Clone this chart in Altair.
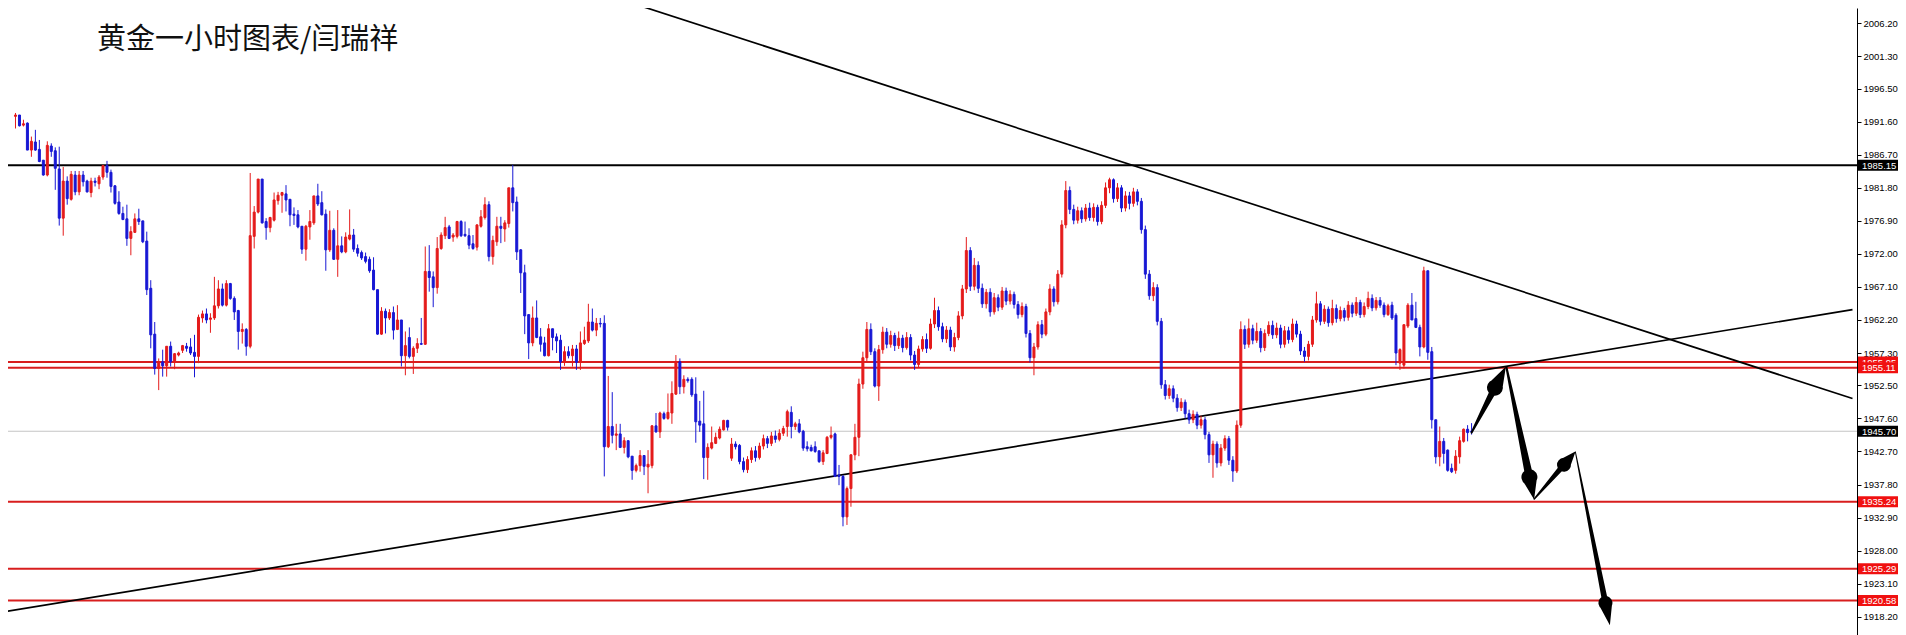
import altair as alt
import pandas as pd

# ---------------- data ----------------
FIRST_BAR = 2
opens = [
    1992.4, 1992.6, 1991.1, 1991.4, 1987.4, 1988.6, 1987.5, 1985.9, 1983.7, 1988.0,
    1987.3, 1984.6, 1977.3, 1982.8, 1980.1, 1983.7, 1981.2, 1983.7, 1982.8, 1981.1,
    1982.8, 1982.4, 1983.4, 1985.1, 1984.1, 1982.1, 1979.7, 1978.0, 1977.2, 1974.3,
    1975.2, 1977.2, 1976.9, 1973.9, 1966.9, 1960.1, 1955.0, 1956.0, 1955.4, 1958.3,
    1956.0, 1957.0, 1957.7, 1958.3, 1958.2, 1957.4, 1956.8, 1962.5, 1963.1, 1962.3,
    1962.5, 1964.3, 1966.8, 1964.4, 1967.6, 1965.4, 1963.6, 1960.5, 1960.8, 1958.3,
    1974.6, 1978.2, 1983.1, 1976.8, 1975.9, 1977.0, 1979.9, 1980.7, 1980.9, 1980.1,
    1977.9, 1977.8, 1976.1, 1972.7, 1976.0, 1976.6, 1980.6, 1979.6, 1977.9, 1972.6,
    1975.5, 1971.2, 1973.2, 1972.3, 1974.2, 1974.8, 1972.8, 1972.2, 1971.6, 1971.2,
    1969.6, 1966.7, 1960.1, 1963.5, 1962.5, 1963.3, 1960.8, 1962.2, 1956.9, 1959.6,
    1956.8, 1958.0, 1958.7, 1958.6, 1969.4, 1968.6, 1967.0, 1972.8, 1974.7, 1976.0,
    1974.5, 1974.6, 1976.8, 1974.9, 1974.7, 1973.5, 1973.0, 1976.1, 1977.4, 1979.3,
    1971.6, 1973.8, 1976.1, 1975.7, 1976.5, 1981.8, 1979.7, 1972.6, 1969.2, 1963.0,
    1958.8, 1962.5, 1959.7, 1958.8, 1956.9, 1960.9, 1959.7, 1959.2, 1956.0, 1957.5,
    1956.9, 1957.9, 1955.9, 1958.7, 1959.1, 1961.9, 1960.7, 1961.7, 1961.7, 1943.4,
    1946.4, 1945.1, 1945.3, 1943.3, 1944.3, 1942.0, 1939.9, 1940.6, 1942.1, 1940.4,
    1940.6, 1946.5, 1945.6, 1948.3, 1947.6, 1948.4, 1951.2, 1956.0, 1952.3, 1953.4,
    1953.4, 1951.2, 1947.2, 1946.8, 1941.8, 1943.2, 1943.9, 1944.7, 1945.9, 1947.3,
    1941.7, 1943.8, 1943.6, 1941.2, 1940.0, 1941.5, 1942.8, 1941.8, 1943.5, 1944.6,
    1943.9, 1945.0, 1944.5, 1945.4, 1946.4, 1948.5, 1946.4, 1946.8, 1945.7, 1943.4,
    1943.3, 1943.4, 1942.8, 1941.2, 1942.4, 1944.8, 1945.3, 1939.2, 1939.0, 1933.0,
    1937.2, 1942.2, 1944.8, 1952.7, 1956.6, 1960.8, 1957.5, 1952.4, 1957.8, 1960.4,
    1958.6, 1959.9, 1958.4, 1959.5, 1958.1, 1959.6, 1957.0, 1955.6, 1957.9, 1959.3,
    1958.0, 1961.6, 1963.6, 1961.2, 1959.4, 1960.7, 1958.2, 1959.6, 1962.8, 1966.8,
    1972.5, 1967.2, 1970.3, 1966.9, 1964.6, 1966.3, 1963.4, 1965.5, 1964.1, 1966.5,
    1965.0, 1966.0, 1964.5, 1963.0, 1964.2, 1960.2, 1956.6, 1958.2, 1961.5, 1960.1,
    1963.4, 1966.8, 1964.9, 1969.0, 1976.3, 1981.4, 1978.6, 1977.0, 1978.4, 1977.2,
    1978.8, 1977.4, 1978.9, 1976.8, 1979.2, 1981.8, 1983.0, 1980.2, 1981.8, 1978.8,
    1980.6, 1979.5, 1981.2, 1979.8, 1975.6, 1969.0, 1965.8, 1967.0, 1962.0, 1952.6,
    1951.0, 1952.0, 1950.6, 1949.2, 1950.0, 1948.3, 1947.4, 1948.2, 1946.6, 1947.4,
    1945.2, 1942.2, 1943.8, 1941.0, 1943.2, 1944.6, 1941.4, 1939.8, 1946.6, 1960.8,
    1958.6, 1960.9, 1959.2, 1960.5, 1958.1, 1960.2, 1961.4, 1960.0, 1961.0, 1958.6,
    1960.6, 1959.3, 1961.6, 1960.1, 1957.6, 1956.8, 1958.6, 1962.2, 1964.6, 1962.0,
    1963.8, 1961.8, 1963.9, 1962.4, 1963.6, 1962.6, 1964.4, 1963.2, 1964.8, 1963.0,
    1964.2, 1965.4, 1964.0, 1965.1, 1964.4, 1963.0, 1964.4, 1962.9, 1955.8, 1955.5,
    1961.3, 1964.4, 1962.4, 1961.1, 1958.2, 1969.5, 1957.5, 1947.4, 1941.9, 1944.2,
    1942.9, 1940.2, 1939.9, 1941.9, 1944.2, 1946.0, 1945.7,
]
highs = [
    1992.9, 1992.6, 1991.9, 1991.5, 1989.4, 1990.4, 1988.9, 1985.9, 1988.7, 1988.4,
    1987.8, 1987.9, 1984.9, 1983.5, 1984.3, 1984.3, 1984.3, 1984.3, 1983.0, 1983.3,
    1983.3, 1983.7, 1985.2, 1985.8, 1984.5, 1982.2, 1981.3, 1979.0, 1979.3, 1976.1,
    1978.0, 1978.7, 1976.9, 1975.3, 1968.1, 1961.9, 1956.5, 1957.8, 1958.3, 1959.0,
    1957.3, 1957.5, 1958.5, 1958.8, 1959.5, 1960.0, 1963.0, 1963.6, 1963.9, 1963.2,
    1968.6, 1968.1, 1967.6, 1968.1, 1967.7, 1965.7, 1963.7, 1961.7, 1961.0, 1984.0,
    1979.1, 1983.1, 1983.1, 1977.3, 1977.5, 1981.1, 1981.2, 1981.2, 1982.2, 1980.1,
    1978.9, 1978.5, 1976.1, 1976.3, 1978.5, 1980.6, 1982.4, 1981.3, 1978.6, 1978.4,
    1975.8, 1978.5, 1974.6, 1975.2, 1978.6, 1975.7, 1973.4, 1972.5, 1972.2, 1971.6,
    1971.5, 1966.7, 1964.1, 1963.9, 1963.8, 1964.2, 1964.4, 1962.2, 1960.5, 1961.1,
    1958.3, 1959.5, 1962.5, 1973.1, 1973.3, 1969.4, 1974.5, 1975.2, 1977.5, 1976.3,
    1975.1, 1976.9, 1977.0, 1976.8, 1975.8, 1974.8, 1976.4, 1978.5, 1980.4, 1979.8,
    1974.7, 1977.5, 1977.5, 1977.0, 1981.8, 1985.2, 1980.5, 1972.7, 1970.4, 1963.0,
    1964.2, 1965.1, 1961.0, 1959.7, 1961.6, 1960.9, 1960.2, 1960.0, 1958.3, 1958.3,
    1958.5, 1958.5, 1960.5, 1961.2, 1964.6, 1963.9, 1962.5, 1962.5, 1962.9, 1953.9,
    1951.5, 1946.8, 1946.8, 1944.8, 1944.3, 1942.0, 1940.9, 1942.9, 1942.1, 1942.9,
    1946.6, 1948.4, 1948.6, 1948.6, 1951.3, 1953.1, 1957.0, 1956.5, 1954.0, 1953.7,
    1953.7, 1953.7, 1950.2, 1951.7, 1943.9, 1946.4, 1945.5, 1946.4, 1947.4, 1947.4,
    1944.7, 1944.2, 1943.8, 1941.8, 1942.0, 1943.3, 1943.5, 1944.0, 1945.2, 1945.0,
    1945.6, 1945.8, 1946.0, 1946.5, 1948.9, 1949.4, 1947.1, 1947.5, 1945.9, 1944.2,
    1943.7, 1944.2, 1942.8, 1942.9, 1945.0, 1946.4, 1945.5, 1940.7, 1939.2, 1937.5,
    1942.3, 1946.8, 1953.5, 1957.5, 1961.9, 1961.7, 1958.0, 1958.5, 1961.2, 1961.0,
    1960.6, 1960.3, 1960.5, 1960.0, 1960.4, 1960.1, 1957.6, 1958.4, 1959.8, 1960.2,
    1962.4, 1965.5, 1964.2, 1961.8, 1961.3, 1961.2, 1960.3, 1963.5, 1967.4, 1974.5,
    1973.0, 1971.4, 1970.9, 1967.6, 1966.8, 1966.9, 1966.2, 1966.0, 1967.1, 1967.0,
    1966.6, 1966.4, 1965.0, 1964.8, 1964.6, 1960.7, 1958.8, 1962.0, 1962.2, 1963.9,
    1967.5, 1967.2, 1969.6, 1977.0, 1982.8, 1982.0, 1979.3, 1979.0, 1978.9, 1979.4,
    1979.6, 1979.5, 1979.3, 1979.8, 1982.6, 1983.3, 1983.2, 1982.5, 1982.2, 1981.3,
    1981.2, 1981.8, 1981.6, 1980.3, 1976.2, 1969.6, 1967.8, 1967.5, 1962.5, 1953.3,
    1952.6, 1952.5, 1951.2, 1950.6, 1950.4, 1948.9, 1948.8, 1948.6, 1948.0, 1947.8,
    1945.6, 1944.3, 1944.2, 1943.8, 1945.1, 1945.0, 1942.0, 1947.3, 1962.0, 1961.4,
    1962.4, 1961.5, 1961.8, 1961.0, 1960.8, 1962.0, 1962.1, 1961.8, 1961.5, 1961.3,
    1961.2, 1962.4, 1962.1, 1960.6, 1958.2, 1959.1, 1962.8, 1966.4, 1965.0, 1964.4,
    1964.2, 1965.2, 1964.5, 1964.2, 1964.0, 1965.0, 1964.8, 1965.6, 1965.2, 1964.8,
    1966.4, 1966.0, 1965.6, 1965.6, 1964.8, 1964.6, 1964.9, 1963.2, 1958.0, 1961.5,
    1964.7, 1966.2, 1964.9, 1961.5, 1970.1, 1969.5, 1958.2, 1947.4, 1946.4, 1944.7,
    1943.0, 1940.9, 1942.9, 1944.9, 1946.1, 1946.6, 1946.9,
]
lows = [
    1990.6, 1990.9, 1990.9, 1987.4, 1986.4, 1987.3, 1985.6, 1983.6, 1983.5, 1986.4,
    1981.5, 1976.2, 1974.7, 1979.3, 1979.9, 1980.7, 1980.7, 1982.0, 1981.1, 1980.4,
    1982.0, 1981.6, 1983.0, 1983.3, 1981.1, 1979.3, 1977.8, 1977.0, 1973.2, 1971.8,
    1975.1, 1976.3, 1973.6, 1965.9, 1958.0, 1954.1, 1951.8, 1953.8, 1953.8, 1955.3,
    1954.9, 1956.8, 1957.3, 1957.5, 1957.0, 1953.7, 1955.8, 1961.8, 1961.7, 1960.3,
    1962.2, 1963.9, 1964.2, 1964.2, 1965.2, 1962.2, 1957.8, 1958.7, 1956.9, 1958.0,
    1972.8, 1978.0, 1976.5, 1974.1, 1975.2, 1976.8, 1979.3, 1978.1, 1978.3, 1976.1,
    1976.3, 1975.8, 1972.0, 1971.0, 1974.1, 1976.3, 1979.1, 1977.7, 1969.5, 1972.3,
    1971.1, 1968.6, 1972.1, 1972.1, 1974.0, 1972.3, 1971.6, 1971.1, 1970.6, 1969.2,
    1966.6, 1960.0, 1960.0, 1960.2, 1962.2, 1959.3, 1960.7, 1955.3, 1954.0, 1956.5,
    1954.2, 1957.3, 1958.5, 1958.5, 1966.4, 1964.1, 1966.1, 1972.6, 1974.2, 1974.2,
    1973.8, 1974.3, 1974.5, 1974.5, 1972.7, 1972.6, 1972.5, 1975.9, 1977.1, 1970.9,
    1970.4, 1973.2, 1973.6, 1973.8, 1975.9, 1978.3, 1971.1, 1966.2, 1960.1, 1956.4,
    1958.3, 1959.5, 1957.5, 1956.8, 1956.8, 1957.7, 1957.3, 1954.8, 1955.4, 1956.5,
    1955.3, 1954.8, 1954.8, 1958.5, 1958.8, 1960.5, 1959.8, 1961.1, 1939.0, 1943.2,
    1943.9, 1942.9, 1943.2, 1942.4, 1941.7, 1938.5, 1939.6, 1939.7, 1939.2, 1936.5,
    1940.2, 1945.5, 1944.7, 1947.4, 1947.4, 1946.8, 1951.1, 1951.2, 1951.3, 1952.9,
    1950.8, 1944.0, 1945.6, 1938.6, 1938.5, 1943.0, 1943.8, 1944.5, 1945.8, 1945.8,
    1941.3, 1943.0, 1940.8, 1939.6, 1939.5, 1941.0, 1941.2, 1941.5, 1943.0, 1943.2,
    1943.5, 1944.0, 1944.2, 1945.0, 1944.9, 1944.65, 1945.9, 1945.4, 1942.8, 1942.7,
    1942.7, 1942.5, 1941.0, 1940.7, 1942.3, 1944.5, 1938.9, 1937.7, 1931.6, 1931.8,
    1934.5, 1941.4, 1942.0, 1952.0, 1955.9, 1957.0, 1952.2, 1950.2, 1957.2, 1958.0,
    1958.1, 1957.6, 1957.9, 1957.4, 1957.8, 1956.2, 1954.8, 1955.2, 1957.5, 1957.3,
    1957.8, 1961.0, 1960.6, 1958.9, 1958.8, 1957.6, 1957.5, 1959.2, 1962.3, 1966.2,
    1966.5, 1966.6, 1966.2, 1964.0, 1963.9, 1962.7, 1963.0, 1963.5, 1963.7, 1964.4,
    1964.5, 1963.9, 1962.4, 1962.6, 1959.6, 1955.9, 1954.0, 1957.8, 1959.5, 1959.8,
    1962.9, 1964.2, 1964.5, 1968.5, 1975.8, 1977.9, 1976.4, 1976.5, 1976.6, 1976.8,
    1976.9, 1976.8, 1976.2, 1976.4, 1978.8, 1981.0, 1979.6, 1979.7, 1978.2, 1978.3,
    1978.6, 1979.0, 1979.2, 1975.0, 1968.3, 1965.2, 1965.0, 1961.4, 1952.0, 1950.4,
    1950.5, 1950.0, 1948.6, 1948.7, 1947.6, 1946.8, 1946.9, 1946.0, 1946.1, 1944.5,
    1941.0, 1938.8, 1940.3, 1940.5, 1942.8, 1940.7, 1938.2, 1939.5, 1946.2, 1957.9,
    1958.1, 1958.6, 1958.8, 1957.4, 1957.6, 1959.8, 1959.4, 1959.5, 1958.0, 1958.1,
    1958.7, 1958.9, 1959.6, 1957.0, 1956.0, 1956.2, 1958.2, 1961.8, 1961.4, 1961.6,
    1961.2, 1961.4, 1961.8, 1962.0, 1962.0, 1962.1, 1962.6, 1962.8, 1962.5, 1962.6,
    1963.8, 1963.5, 1963.6, 1964.0, 1962.6, 1962.8, 1962.2, 1955.5, 1954.8, 1955.0,
    1961.0, 1962.2, 1961.0, 1956.8, 1958.0, 1956.3, 1946.1, 1940.9, 1940.5, 1940.9,
    1939.7, 1939.5, 1939.4, 1940.9, 1944.0, 1944.2, 1945.2,
]
closes = [
    1992.6, 1991.0, 1991.3, 1987.4, 1988.7, 1987.4, 1985.7, 1983.7, 1988.1, 1987.2,
    1984.7, 1977.3, 1982.8, 1980.2, 1983.8, 1981.2, 1983.7, 1982.7, 1981.2, 1982.8,
    1982.6, 1983.4, 1985.1, 1984.1, 1982.0, 1979.5, 1978.0, 1977.1, 1974.3, 1975.3,
    1977.2, 1976.8, 1973.8, 1966.7, 1960.0, 1955.0, 1956.0, 1955.4, 1958.3, 1956.0,
    1957.2, 1957.3, 1958.4, 1958.0, 1957.3, 1956.8, 1962.6, 1963.1, 1962.2, 1962.5,
    1964.3, 1966.8, 1964.4, 1967.6, 1965.4, 1963.4, 1960.5, 1960.8, 1958.3, 1974.7,
    1978.2, 1983.1, 1976.6, 1975.9, 1977.4, 1980.0, 1980.7, 1981.1, 1980.0, 1977.8,
    1977.7, 1976.0, 1972.7, 1976.1, 1976.8, 1980.6, 1979.4, 1977.8, 1972.6, 1975.5,
    1971.2, 1973.2, 1972.3, 1974.5, 1974.8, 1972.7, 1972.1, 1971.4, 1970.9, 1969.5,
    1966.7, 1960.1, 1963.5, 1962.5, 1963.3, 1960.7, 1962.2, 1956.9, 1958.4, 1956.8,
    1958.0, 1958.7, 1958.6, 1969.4, 1968.5, 1967.0, 1972.8, 1974.8, 1975.9, 1974.3,
    1974.8, 1976.8, 1974.7, 1974.7, 1973.3, 1972.8, 1976.3, 1977.5, 1979.3, 1971.6,
    1974.0, 1976.1, 1975.8, 1976.6, 1981.8, 1979.6, 1972.3, 1969.2, 1962.8, 1958.8,
    1962.5, 1959.6, 1958.6, 1956.9, 1960.9, 1959.6, 1959.1, 1956.0, 1957.5, 1956.9,
    1957.9, 1955.9, 1958.8, 1959.2, 1961.9, 1960.7, 1961.7, 1961.6, 1943.4, 1946.4,
    1945.1, 1945.3, 1943.3, 1944.3, 1941.9, 1939.9, 1940.6, 1942.1, 1940.5, 1940.8,
    1946.5, 1945.6, 1948.4, 1947.6, 1948.5, 1951.3, 1956.0, 1952.3, 1953.4, 1953.2,
    1951.1, 1947.1, 1946.6, 1941.8, 1943.3, 1944.0, 1944.8, 1946.0, 1947.3, 1946.3,
    1943.8, 1943.4, 1941.2, 1940.0, 1941.5, 1942.8, 1941.8, 1943.5, 1944.6, 1943.9,
    1945.0, 1944.5, 1945.4, 1946.1, 1948.6, 1946.4, 1946.8, 1945.6, 1943.2, 1943.1,
    1942.8, 1942.7, 1941.2, 1942.5, 1944.8, 1945.1, 1939.0, 1939.0, 1933.0, 1937.2,
    1942.2, 1944.8, 1952.7, 1956.6, 1960.8, 1957.5, 1952.4, 1957.8, 1960.4, 1958.6,
    1959.9, 1958.4, 1959.5, 1958.1, 1959.6, 1957.0, 1955.6, 1957.9, 1959.3, 1958.0,
    1961.6, 1963.6, 1961.2, 1959.4, 1960.7, 1958.2, 1959.6, 1962.8, 1966.8, 1972.5,
    1967.2, 1970.3, 1966.9, 1964.6, 1966.3, 1963.4, 1965.5, 1964.1, 1966.5, 1965.0,
    1966.0, 1964.5, 1963.0, 1964.2, 1960.2, 1956.6, 1958.2, 1961.5, 1960.1, 1963.4,
    1966.8, 1964.9, 1969.0, 1976.3, 1981.4, 1978.6, 1977.0, 1978.4, 1977.2, 1978.8,
    1977.4, 1978.9, 1976.8, 1979.2, 1981.8, 1983.0, 1980.2, 1981.8, 1978.8, 1980.6,
    1979.5, 1981.2, 1979.8, 1975.6, 1969.0, 1965.8, 1967.0, 1962.0, 1952.6, 1951.0,
    1952.0, 1950.6, 1949.2, 1950.0, 1948.3, 1947.4, 1948.2, 1946.6, 1947.4, 1945.2,
    1942.2, 1943.8, 1941.0, 1943.2, 1944.6, 1941.4, 1939.8, 1946.6, 1960.8, 1958.6,
    1960.9, 1959.2, 1960.5, 1958.1, 1960.2, 1961.4, 1960.0, 1961.0, 1958.6, 1960.6,
    1959.3, 1961.6, 1960.1, 1957.6, 1956.8, 1958.6, 1962.2, 1964.6, 1962.0, 1963.8,
    1961.8, 1963.9, 1962.4, 1963.6, 1962.6, 1964.4, 1963.2, 1964.8, 1963.0, 1964.2,
    1965.4, 1964.0, 1965.1, 1964.4, 1963.0, 1964.3, 1962.5, 1957.3, 1957.8, 1961.5,
    1964.4, 1962.2, 1961.1, 1958.2, 1969.5, 1957.4, 1947.4, 1941.9, 1944.2, 1942.4,
    1939.9, 1939.7, 1942.0, 1944.3, 1946.0, 1945.5, 1945.6,
]

tick_values = [2006.20, 2001.30, 1996.50, 1991.60, 1986.70, 1981.80, 1976.90,
               1972.00, 1967.10, 1962.20, 1957.30, 1952.50, 1947.60, 1942.70,
               1937.80, 1932.90, 1928.00, 1923.10, 1918.20]
red_levels = [1955.95, 1955.11, 1935.24, 1925.29, 1920.58]
black_levels = [1985.15, 1945.70]
last_price = 1945.70
title_text = "黄金一小时图表/闫瑞祥"

# trend lines as (bar, price) end points
trend_bars = [[154.5, 463.75], [-0.5, 463.75]]
trend_prices = [[2009.66, 1950.56], [1918.97, 1963.73]]

# drawn arrows: start, tip (bar, price)
arrow_starts = [(368.0, 1945.49), (376.75, 1955.23), (383.75, 1935.66), (394.1, 1942.62)]
arrow_tips = [(376.6, 1955.27), (383.7, 1935.61), (394.1, 1942.67), (402.75, 1916.97)]
arrow_head_frac = [0.32, 0.17, 0.28, 0.13]
arrow_shaft_w = [(2.0, 7.0), (2.0, 8.0), (1.5, 6.0), (1.0, 6.0)]
arrow_head_w = [16, 16, 14, 14]

# ---------------- styling ----------------
RED = "#e41b1b"
BLUE = "#1818d4"
LINE_RED = "#d81e1e"
BOX_RED = "#f01010"
AXIS_FONT = "Liberation Sans"
W, H = 1849, 627

n = len(opens)
assert len(highs) == n and len(lows) == n and len(closes) == n
df = pd.DataFrame({
    "bar": list(range(FIRST_BAR, FIRST_BAR + n)),
    "open": opens, "high": highs, "low": lows, "close": closes,
})
df["dir"] = ["up" if c >= o else "down" for o, c in zip(opens, closes)]
df["top"] = df[["open", "close"]].max(axis=1)
df["bot"] = df[["open", "close"]].min(axis=1)

xs = alt.Scale(domain=[1.375, 463.625], nice=False, zero=False)
ys = alt.Scale(domain=[1915.48, 2008.47], nice=False, zero=False)
yaxis = alt.Axis(orient="right", values=tick_values, title=None, grid=False,
                 labelExpr="format(datum.value, '.2f')")
cscale = alt.Scale(domain=["up", "down"], range=[RED, BLUE])

X = lambda f: alt.X(f, type="quantitative", scale=xs, axis=None)
Y = lambda f: alt.Y(f, type="quantitative", scale=ys, axis=yaxis)

wicks = alt.Chart(df).mark_rule(strokeWidth=1, clip=True).encode(
    x=X("bar"), y=Y("low"), y2="high",
    color=alt.Color("dir:N", scale=cscale, legend=None))
bodies = alt.Chart(df).mark_bar(size=2, strokeWidth=1, clip=True).encode(
    x=X("bar"), y=Y("bot"), y2="top",
    color=alt.Color("dir:N", scale=cscale, legend=None),
    stroke=alt.Stroke("dir:N", scale=cscale, legend=None))

red_df = pd.DataFrame({"price": red_levels})
red_lines = alt.Chart(red_df).mark_rule(strokeWidth=2, color=LINE_RED, clip=True).encode(
    y=Y("price"))
black_line = alt.Chart(pd.DataFrame({"price": black_levels[:1]})).mark_rule(
    strokeWidth=2, color="black", clip=True).encode(y=Y("price"))
gray_line = alt.Chart(pd.DataFrame({"price": [last_price]})).mark_rule(
    strokeWidth=1, color="#c4c4c4", clip=True).encode(y=Y("price"))

tl_rows = []
for k, (bs, ps) in enumerate(zip(trend_bars, trend_prices)):
    for b, p in zip(bs, ps):
        tl_rows.append({"id": k, "bar": b, "price": p})
trend = alt.Chart(pd.DataFrame(tl_rows)).mark_line(
    color="black", strokeWidth=1.7, clip=True).encode(
    x=X("bar"), y=Y("price"), detail="id:N")

ar_rows = []
for k in range(len(arrow_starts)):
    (b0, p0), (b1, p1) = arrow_starts[k], arrow_tips[k]
    hf = arrow_head_frac[k]
    ws, we = arrow_shaft_w[k]
    for j, (t, w) in enumerate([(0.0, ws), (1 - hf, we), (1 - hf + 0.003, arrow_head_w[k]), (1.0, 0.2)]):
        ar_rows.append({"id": k, "ord": j, "bar": b0 + (b1 - b0) * t,
                        "price": p0 + (p1 - p0) * t, "w": w})
arrows = alt.Chart(pd.DataFrame(ar_rows)).mark_trail(color="black", clip=True).encode(
    x=X("bar"), y=Y("price"), detail="id:N", order="ord:Q",
    size=alt.Size("w:Q", scale=None, legend=None))


def label_layers(values, fill):
    d = pd.DataFrame({"price": values, "label": [f"{v:.2f}" for v in values]})
    box = alt.Chart(d).mark_rule(strokeWidth=11, strokeCap="butt", color=fill).encode(
        x=alt.value(W + 1), x2=alt.value(W + 41), y=Y("price"))
    txt = alt.Chart(d).mark_text(
        align="left", baseline="middle", color="white", font=AXIS_FONT,
        fontSize=9.5, dy=0.5).encode(x=alt.value(W + 5), y=Y("price"), text="label:N")
    return [box, txt]


label_marks = label_layers(black_levels, "black")
for v in red_levels:
    label_marks += label_layers([v], BOX_RED)

title = alt.Chart(pd.DataFrame({"t": [title_text]})).mark_text(
    align="left", baseline="middle", font="Noto Sans CJK SC", fontSize=29,
    color="#111111").encode(x=alt.value(89), y=alt.value(32), text="t:N")

chart = alt.layer(
    gray_line, red_lines, black_line, trend, wicks, bodies, arrows, *label_marks, title
).properties(
    width=W, height=H, background="white",
    autosize=alt.AutoSizeParams(type="none"),
    padding={"left": 0, "top": 0, "right": 41, "bottom": 0},
).configure_view(
    stroke=None
).configure_axis(
    domainColor="black", domainWidth=1, tickColor="black", tickSize=4, tickWidth=1,
    labelFont=AXIS_FONT, labelFontSize=9.5, labelColor="black", labelPadding=2,
    labelAlign="left", labelBaseline="middle"
)

chart.save("out.html", embed_options={"renderer": "svg", "actions": False})
